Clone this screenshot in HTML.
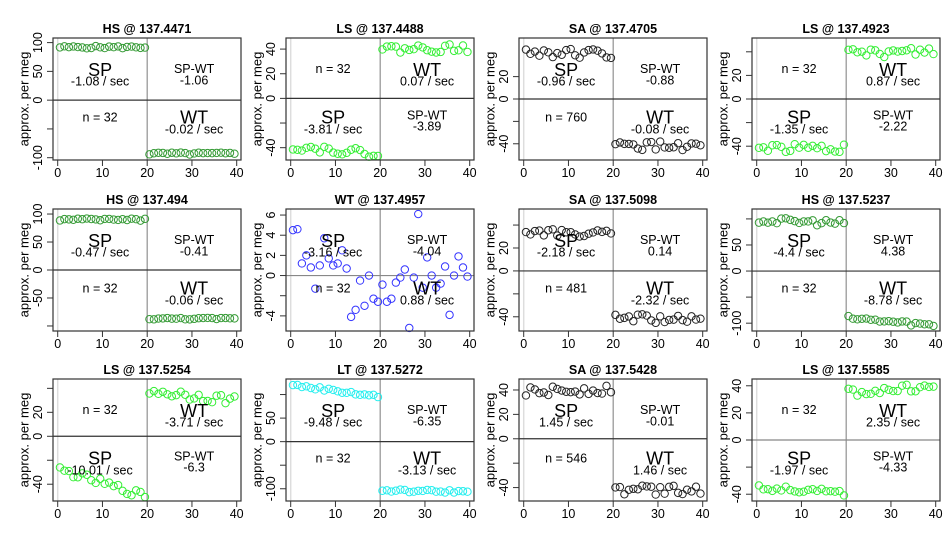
<!DOCTYPE html>
<html><head><meta charset="utf-8"><style>
html,body{margin:0;padding:0;background:#fff}
svg{display:block;font-family:"Liberation Sans",Arial,sans-serif}
</style></head><body>
<svg id="s" width="950" height="550" xmlns="http://www.w3.org/2000/svg"></svg>
<script>
var S=document.getElementById('s'),out='';
function rnd(seed){var x=seed;return function(){x=(x*9301+49297)%233280;return x/233280-0.5;}}
var P=[
{t:'HS @ 137.4471',lo:-104,hi:108,tk:[[-100,'-100'],[-50,''],[0,'0'],[50,'50'],[100,'100']],c:'#339933',sp:[92,92,2],wt:[-93,-93,2],L:['-1.08 / sec','-1.06','-0.02 / sec','n = 32']},
{t:'LS @ 137.4488',lo:-50,hi:49,tk:[[-40,'-40'],[-20,''],[0,'0'],[20,'20'],[40,'40']],c:'#33ee33',sp:[-39,-45,3],wt:[40,41,3.5],L:['-3.81 / sec','-3.89','0.07 / sec','n = 32']},
{t:'SA @ 137.4705',lo:-54.5,hi:54.5,tk:[[-40,'-40'],[-20,''],[0,'0'],[20,'20']],c:'#222',sp:[42,40,4],wt:[-42,-42,4],L:['-0.96 / sec','-0.88','-0.08 / sec','n = 760']},
{t:'LS @ 137.4923',lo:-51.7,hi:51.7,tk:[[-40,'-40'],[-20,''],[0,'0'],[20,'20'],[40,'']],c:'#33ee33',sp:[-41,-42,3.5],wt:[38,41,4],L:['-1.35 / sec','-2.22','0.87 / sec','n = 32']},
{t:'HS @ 137.494',lo:-109,hi:109,tk:[[-100,''],[-50,'-50'],[0,'0'],[50,'50'],[100,'100']],c:'#339933',sp:[90,90,2],wt:[-87,-87,1.5],L:['-0.47 / sec','-0.41','-0.06 / sec','n = 32']},
{t:'WT @ 137.4957',lo:-5.5,hi:6.6,tk:[[-4,'-4'],[-2,''],[0,'0'],[2,'2'],[4,'4'],[6,'6']],c:'#3333ff',pts:[4.5,4.6,1.2,2.0,0.8,-1.3,1.0,3.7,1.7,1.0,1.2,2.5,0.7,-4.1,-3.4,-0.5,-3.0,0,-2.3,-2.6,-0.9,-2.6,-2.3,-0.7,-0.2,0.6,-5.2,-0.2,6.1,-1.2,1.8,0,-1.2,-0.8,0.9,-3.9,0,1.9,0.8,-0.1],spTop:true,L:['-3.16 / sec','-4.04','0.88 / sec','n = 32'],zc:'#888'},
{t:'SA @ 137.5098',lo:-52.4,hi:54,tk:[[-40,'-40'],[-20,''],[0,'0'],[20,'20'],[40,'']],c:'#222',sp:[34,32,3],wt:[-40,-44,4],L:['-2.18 / sec','0.14','-2.32 / sec','n = 481']},
{t:'HS @ 137.5237',lo:-115,hi:119,tk:[[-100,'-100'],[-50,''],[0,'0'],[50,'50'],[100,'']],c:'#339933',sp:[97,92,6],wt:[-90,-104,4],L:['-4.4 / sec','4.38','-8.78 / sec','n = 32']},
{t:'LS @ 137.5254',lo:-54,hi:47.8,tk:[[-40,'-40'],[-20,''],[0,'0'],[20,'20'],[40,'']],c:'#33ee33',sp:[-28,-50,3],wt:[38,30,4],L:['-10.01 / sec','-6.3','-3.71 / sec','n = 32']},
{t:'LT @ 137.5272',lo:-126,hi:133,tk:[[-100,'-100'],[-50,''],[0,'0'],[50,'50'],[100,'']],c:'#22eeee',sp:[120,96,3],wt:[-104,-106,3],L:['-9.48 / sec','-6.35','-3.13 / sec','n = 32']},
{t:'SA @ 137.5428',lo:-51,hi:49,tk:[[-40,'-40'],[-20,''],[0,'0'],[20,'20'],[40,'40']],c:'#222',sp:[38,41,4],wt:[-42,-40,5],L:['1.45 / sec','-0.01','1.46 / sec','n = 546']},
{t:'LS @ 137.5585',lo:-45,hi:45,tk:[[-40,'-40'],[-20,''],[0,'0'],[20,'20'],[40,'40']],c:'#33ee33',sp:[-35,-39,2],wt:[35,39,3],L:['-1.97 / sec','-4.33','2.35 / sec','n = 32'],zc:'#888'}
];
var tops=[38,209,379];
P.forEach(function(p,i){
 var c=i%4,r=Math.floor(i/4),L=53+233*c,T=tops[r],W=188,H=122;
 var X=function(x){return L+4.7+x*4.475},Y=function(y){return T+H*(p.hi-y)/(p.hi-p.lo)};
 var R=rnd(i*17+5),ys=[];
 if(p.pts){ys=p.pts;}else{for(var k=0;k<20;k++)ys.push(p.sp[0]+(p.sp[1]-p.sp[0])*k/19+R()*2*p.sp[2]);for(var k=0;k<20;k++)ys.push(p.wt[0]+(p.wt[1]-p.wt[0])*k/19+R()*2*p.wt[2]);}
 var spTop=p.pts?true:p.sp[0]>0;
 out+='<text x="'+(L+W/2)+'" y="'+(T-9)+'" font-size="12.5" font-weight="bold" text-anchor="middle" dominant-baseline="central">'+p.t+'</text>';
 out+='<line x1="'+X(0)+'" y1="'+T+'" x2="'+X(0)+'" y2="'+(T+H)+'" stroke="#ddd" stroke-width="1.5"/>';
 out+='<line x1="'+X(20)+'" y1="'+T+'" x2="'+X(20)+'" y2="'+(T+H)+'" stroke="#999" stroke-width="1.3"/>';
 out+='<line x1="'+L+'" y1="'+Y(0)+'" x2="'+(L+W)+'" y2="'+Y(0)+'" stroke="'+(p.zc||'#333')+'" stroke-width="1.2"/>';
 ys.forEach(function(y,k){out+='<circle cx="'+X(k+0.5)+'" cy="'+Y(y)+'" r="3.7" fill="none" stroke="'+p.c+'" stroke-width="1"/>';});
 out+='<rect x="'+L+'" y="'+T+'" width="'+W+'" height="'+H+'" fill="none" stroke="#333" stroke-width="1.2"/>';
 [0,10,20,30,40].forEach(function(v){out+='<line x1="'+X(v)+'" y1="'+(T+H)+'" x2="'+X(v)+'" y2="'+(T+H+6)+'" stroke="#333"/><text x="'+X(v)+'" y="'+(T+H+13)+'" font-size="12.5" text-anchor="middle" dominant-baseline="central">'+v+'</text>';});
 p.tk.forEach(function(t){var y=Y(t[0]);if(y<T-1||y>T+H+1)return;out+='<line x1="'+(L-6)+'" y1="'+y+'" x2="'+L+'" y2="'+y+'" stroke="#333"/>';if(t[1])out+='<text transform="translate('+(L-15)+','+y+') rotate(-90)" font-size="12.5" text-anchor="middle" dominant-baseline="central">'+t[1]+'</text>';});
 out+='<text transform="translate('+(L-29)+','+(T+H/2)+') rotate(-90)" font-size="13" text-anchor="middle" dominant-baseline="central">approx. per meg</text>';
 var lx=(L+X(20))/2,rx=(X(20)+L+W)/2,ty=T+H*0.262,tv=T+H*0.358,by=T+H*0.653,bv=T+H*0.752;
 function big(x,y,s){out+='<text x="'+x+'" y="'+y+'" font-size="18" text-anchor="middle" dominant-baseline="central">'+s+'</text>';}
 function sm(x,y,s){out+='<text x="'+x+'" y="'+y+'" font-size="12.5" text-anchor="middle" dominant-baseline="central">'+s+'</text>';}
 if(spTop){big(lx,ty,'SP');sm(lx,tv,p.L[0]);sm(rx,ty-1,'SP-WT');sm(rx,tv-1,p.L[1]);sm(lx,by,p.L[3]);big(rx,by,'WT');sm(rx,bv,p.L[2]);}
 else{sm(lx,ty-1,p.L[3]);big(rx,ty,'WT');sm(rx,tv,p.L[2]);big(lx,by,'SP');sm(lx,bv,p.L[0]);sm(rx,by-2,'SP-WT');sm(rx,bv-3,p.L[1]);}
});
S.innerHTML=out;
</script>
</body></html>
